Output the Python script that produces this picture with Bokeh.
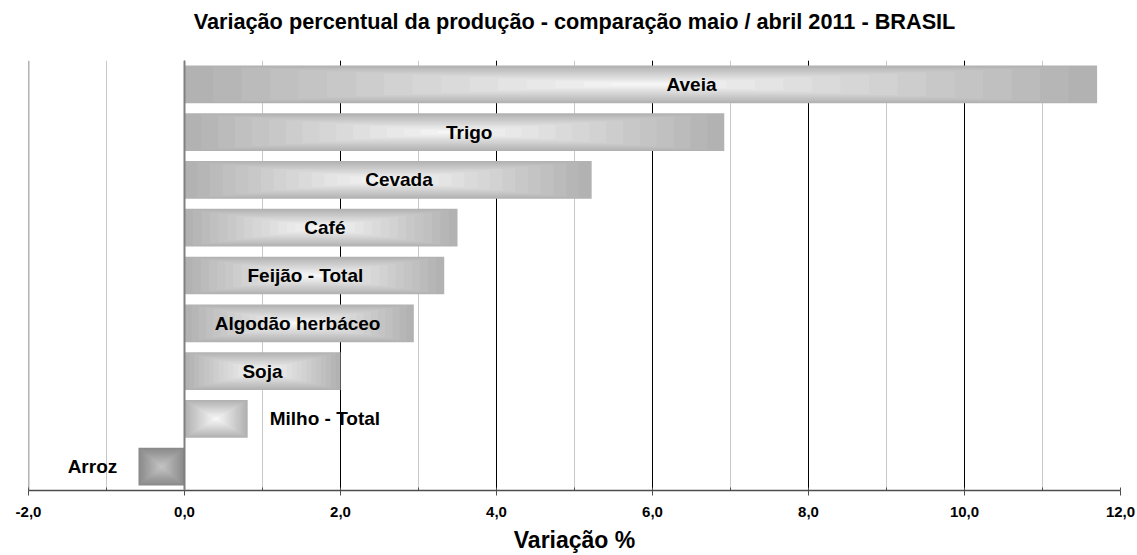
from bokeh.plotting import figure
from bokeh.models import ColumnDataSource, Span, SingleIntervalTicker, CustomJSTickFormatter, FactorRange, Title
from bokeh.core.properties import value
from bokeh.embed import file_html
from bokeh.resources import INLINE

# ---- data ----
categories = ["Aveia", "Trigo", "Cevada", "Café", "Feijão - Total",
              "Algodão herbáceo", "Soja", "Milho - Total", "Arroz"]
values = [11.7, 6.92, 5.22, 3.5, 3.33, 2.94, 2.0, 0.81, -0.59]
label_x = [6.5, 3.65, 2.75, 1.8, 1.55, 1.45, 1.0, 1.8, -1.18]
title_text = "Variação percentual da produção - comparação maio / abril 2011 - BRASIL"
x_title = "Variação %"
x_min, x_max = -2, 12

FONT = "Liberation Sans"

p = figure(width=1137, height=555, output_backend="svg", toolbar_location=None,
           y_range=FactorRange(*categories[::-1]), x_range=(x_min, x_max),
           min_border_left=28, min_border_right=17, min_border_top=60, min_border_bottom=65)
p.outline_line_color = None
p.background_fill_color = "white"

# title: a thin spacer title next to the frame, the real title above it
p.add_layout(Title(text=" ", text_font_size="1px", standoff=24), "above")
p.add_layout(Title(text=title_text, align="center", text_font=FONT,
                   text_font_size="21.7px", text_font_style="bold",
                   text_color="black", standoff=0), "above")

# axes
p.yaxis.visible = False
ax = p.xaxis[0]
ax.ticker = SingleIntervalTicker(interval=2, num_minor_ticks=2)
ax.formatter = CustomJSTickFormatter(code="return tick.toFixed(1).replace('.', ',');")
ax.major_label_text_font = FONT
ax.major_label_text_font_size = "15px"
ax.major_label_text_font_style = "bold"
ax.major_label_text_color = "black"
ax.major_label_standoff = 11
ax.major_tick_out = 5
ax.major_tick_in = 0
ax.minor_tick_in = 3
ax.minor_tick_out = 0
ax.axis_line_color = "#4d4d4d"
ax.axis_line_width = 1.5
ax.major_tick_line_color = "#4d4d4d"
ax.minor_tick_line_color = "#4d4d4d"
ax.axis_label = x_title
ax.axis_label_text_font = FONT
ax.axis_label_text_font_size = "23px"
ax.axis_label_text_font_style = "bold"
ax.axis_label_text_color = "black"
ax.axis_label_standoff = 7

# grid
p.ygrid.visible = False
p.xgrid.ticker = ax.ticker
p.xgrid.grid_line_color = "black"
p.xgrid.grid_line_width = 1
p.xgrid.minor_grid_line_color = "#c8c8c8"
p.xgrid.minor_grid_line_width = 1

# bars: concentric layers give the rectangular gradient
N = 16
BAR_H = 0.79
for k in range(N):
    t = k / N
    xs, ws, hs, cols = [], [], [], []
    for v in values:
        if v >= 0:
            c0, c1 = (178, 178, 178), (250, 250, 250)
        else:
            c0, c1 = (138, 138, 138), (198, 198, 198)
        c = tuple(int(round(a + (b - a) * t)) for a, b in zip(c0, c1))
        xs.append(v / 2)
        ws.append(abs(v) * (1 - t))
        hs.append(BAR_H * (1 - t))
        cols.append("#%02x%02x%02x" % c)
    src = ColumnDataSource(dict(x=xs, y=categories, w=ws, h=hs, c=cols))
    p.rect(x="x", y="y", width="w", height="h", source=src,
           fill_color="c", line_color=None)

# zero line and left edge line
p.add_layout(Span(location=0, dimension="height", line_color="#808080", line_width=2))
p.add_layout(Span(location=x_min, dimension="height", line_color="#666666", line_width=1.5))

# labels
lsrc = ColumnDataSource(dict(x=label_x, y=categories, t=categories))
p.text(x="x", y="y", text="t", source=lsrc, text_font=value(FONT),
       text_font_size="19px", text_font_style="bold", text_color="black",
       text_align="center", text_baseline="middle")

open("out.html", "w").write(file_html(p, INLINE))
